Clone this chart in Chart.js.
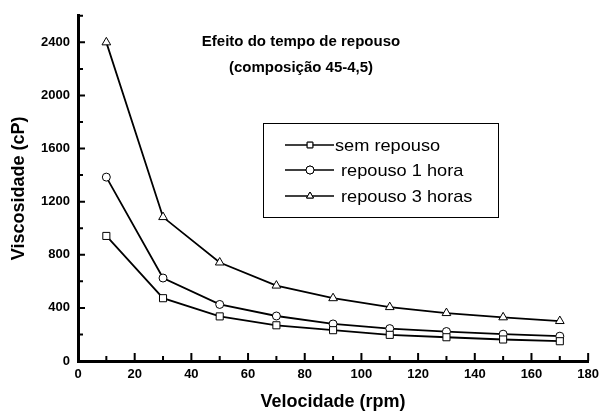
<!DOCTYPE html>
<html>
<head>
<meta charset="utf-8">
<script src="https://cdn.jsdelivr.net/npm/chart.js@4/dist/chart.umd.min.js"></script>
<style>
html,body{margin:0;padding:0;background:#fff;}
#wrap{width:605px;height:414px;position:relative;}
</style>
</head>
<body>
<div id="wrap"><canvas id="c"></canvas></div>
<script>
// ---- data ----
const velocidade = [10, 30, 50, 70, 90, 110, 130, 150, 170];
const semRepouso = [942, 473, 336, 269, 232, 197, 179, 162, 149];
const repouso1h  = [1385, 625, 426, 339, 279, 244, 222, 202, 187];
const repouso3h  = [2400, 1084, 742, 568, 473, 406, 361, 329, 301];
const seriesNames = ["sem repouso", "repouso 1 hora", "repouso 3 horas"];
const xTickLabels = [0, 20, 40, 60, 80, 100, 120, 140, 160, 180];
const yTickLabels = [0, 400, 800, 1200, 1600, 2000, 2400];
const titleLines = ["Efeito do tempo de repouso", "(composição 45-4,5)"];
const xTitle = "Velocidade (rpm)";
const yTitle = "Viscosidade (cP)";

const toXY = ys => velocidade.map((x, i) => ({x: x, y: ys[i]}));

const FONT = "'Liberation Sans', Arial, sans-serif";

const styles = [
  {pointStyle: 'rect', pointRadius: 5},
  {pointStyle: 'circle', pointRadius: 4},
  {pointStyle: 'triangle', pointRadius: 5}
];

const datasets = [semRepouso, repouso1h, repouso3h].map((ys, i) => ({
  label: seriesNames[i],
  data: toXY(ys),
  borderColor: '#000',
  backgroundColor: '#fff',
  borderWidth: 1.8,
  pointBorderColor: '#000',
  pointBackgroundColor: '#fff',
  pointBorderWidth: 1,
  pointStyle: styles[i].pointStyle,
  pointRadius: styles[i].pointRadius,
  tension: 0,
  fill: false
}));

// inward ticks
const innerTicks = {
  id: 'innerTicks',
  afterDraw(chart) {
    const ctx = chart.ctx;
    const xs = chart.scales.x, ys = chart.scales.y;
    const ax = chart.chartArea.bottom;
    const ay = chart.chartArea.left;
    ctx.save();
    ctx.strokeStyle = '#000';
    ctx.lineWidth = 2;
    ctx.beginPath();
    for (let v = 10; v <= 180; v += 10) {
      const px = xs.getPixelForValue(v);
      const len = (v % 20 === 0) ? 8 : 5;
      ctx.moveTo(px, ax);
      ctx.lineTo(px, ax - len);
    }
    for (let v = 200; v <= 2600; v += 200) {
      const py = ys.getPixelForValue(v);
      const len = (v % 400 === 0) ? 7 : 5;
      ctx.moveTo(ay, py);
      ctx.lineTo(ay + len, py);
    }
    ctx.stroke();
    ctx.restore();
  }
};

function wideText(ctx, txt, x, y, sx) {
  ctx.save();
  ctx.translate(x, y);
  ctx.scale(sx, 1);
  ctx.fillText(txt, 0, 0);
  ctx.restore();
}

// in-plot title + legend box
const annot = {
  id: 'annot',
  afterDraw(chart) {
    const ctx = chart.ctx;
    ctx.save();
    ctx.fillStyle = '#000';
    ctx.textAlign = 'center';
    ctx.textBaseline = 'middle';
    ctx.font = "bold 15px " + FONT;
    ctx.fillText(titleLines[0], 301, 42);
    ctx.fillText(titleLines[1], 301, 68);

    // legend box
    ctx.strokeStyle = '#000';
    ctx.lineWidth = 1;
    ctx.strokeRect(263.5, 123.5, 235, 94);
    const rows = [145, 170, 196];
    const textX = [335, 341, 341];
    ctx.font = "17px " + FONT;
    ctx.textAlign = 'left';
    chart.data.datasets.forEach((ds, i) => {
      const y = rows[i];
      ctx.beginPath();
      ctx.lineWidth = 1.5;
      ctx.moveTo(285, y);
      ctx.lineTo(334, y);
      ctx.stroke();
      ctx.fillStyle = '#fff';
      ctx.lineWidth = 1;
      Chart.helpers.drawPoint(ctx, {pointStyle: ds.pointStyle, radius: 4, borderWidth: 1, rotation: 0}, 310, y);
      ctx.fill();
      ctx.stroke();
      ctx.fillStyle = '#000';
      wideText(ctx, ds.label, textX[i], y + 1, 1.07);
    });
    ctx.restore();
  }
};

new Chart(document.getElementById('c'), {
  type: 'line',
  data: {datasets: datasets},
  plugins: [innerTicks, annot],
  options: {
    responsive: true,
    maintainAspectRatio: false,
    animation: false,
    layout: {padding: {top: 13, right: 12, left: 0, bottom: 0}},
    plugins: {legend: {display: false}, title: {display: false}, tooltip: {enabled: false}},
    scales: {
      x: {
        type: 'linear',
        min: 0, max: 180,
        afterFit: s => { s.height = 53; },
        afterBuildTicks: s => { s.ticks = xTickLabels.map(v => ({value: v})); },
        grid: {display: false, drawTicks: false},
        border: {display: true, color: '#000', width: 3},
        ticks: {color: '#000', padding: 6, font: {family: FONT, size: 13, weight: 'bold'}, maxRotation: 0, autoSkip: false, callback: v => String(v)},
        title: {display: true, text: xTitle, color: '#000', font: {family: FONT, size: 18, weight: 'bold'}, padding: {top: 0, bottom: 1}}
      },
      y: {
        type: 'linear',
        min: 0, max: 2600,
        afterFit: s => { s.width = 78; },
        afterBuildTicks: s => { s.ticks = yTickLabels.map(v => ({value: v})); },
        grid: {display: false, drawTicks: false},
        border: {display: true, color: '#000', width: 3},
        ticks: {color: '#000', padding: 8, font: {family: FONT, size: 13, weight: 'bold'}, autoSkip: false, callback: v => String(v)},
        title: {display: true, text: yTitle, color: '#000', font: {family: FONT, size: 18, weight: 'bold'}, padding: {top: 8, bottom: 0}}
      }
    }
  }
});
</script>
</body>
</html>
